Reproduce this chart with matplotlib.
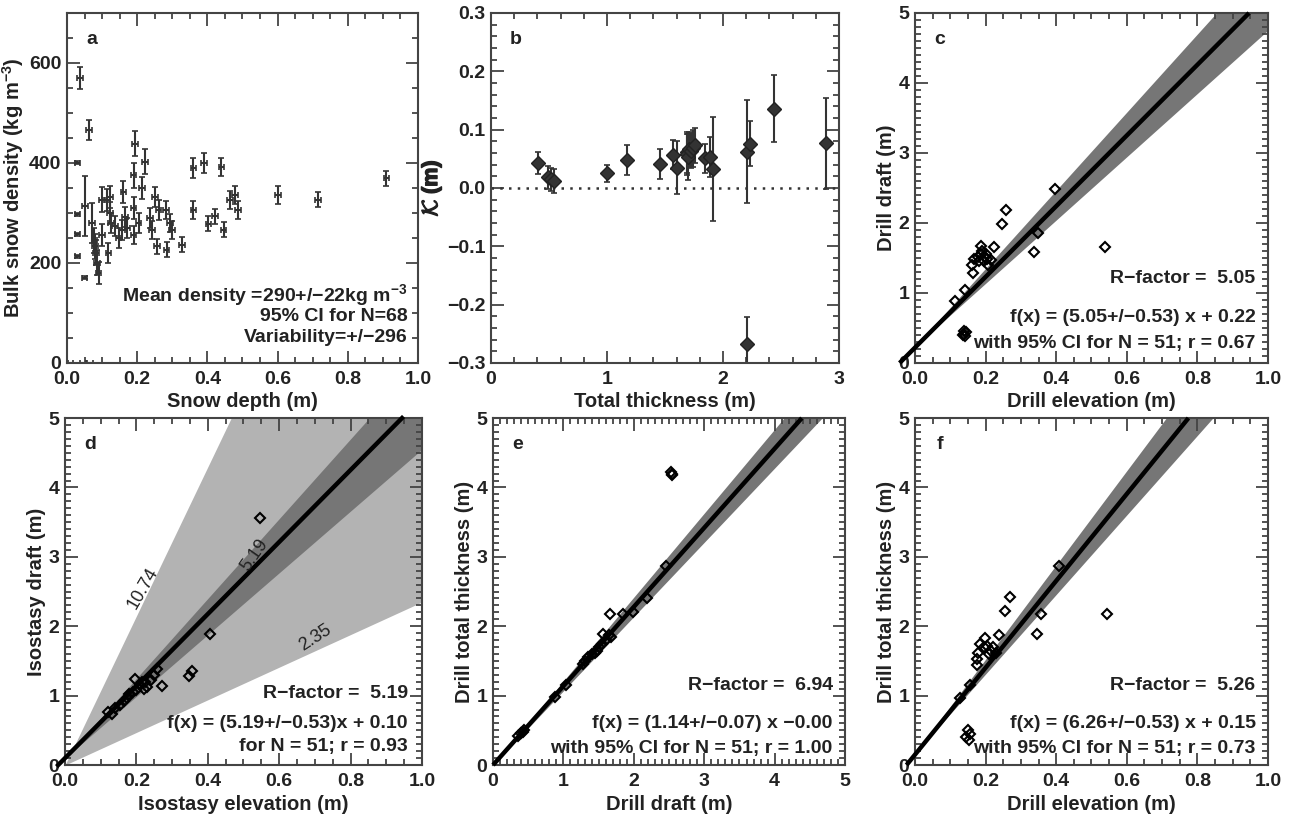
import numpy as np
import matplotlib
matplotlib.use('Agg')
import matplotlib.pyplot as plt
import matplotlib.patheffects as pe
from matplotlib import font_manager
from matplotlib.ft2font import FT2Font
from matplotlib.ticker import MultipleLocator

# ---- panel a: snow depth vs bulk density
snow_depth = [0.038, 0.062, 0.030, 0.030, 0.030, 0.030, 0.050, 0.010, 0.045, 0.065,
              0.052, 0.071, 0.080, 0.082, 0.086, 0.090, 0.078, 0.100, 0.100, 0.114,
              0.118, 0.123, 0.123, 0.125, 0.137, 0.147, 0.156, 0.161, 0.166, 0.172,
              0.190, 0.190, 0.190, 0.194, 0.204, 0.213, 0.223, 0.237, 0.242, 0.250,
              0.256, 0.261, 0.282, 0.284, 0.294, 0.300, 0.327, 0.360, 0.360, 0.390,
              0.403, 0.422, 0.440, 0.446, 0.465, 0.479, 0.488, 0.602, 0.716, 0.910]
snow_density = [570, 466, 400, 297, 257, 213, 170, 0, 0, 0,
                314, 279, 233, 220, 200, 180, 245, 326, 256, 326,
                220, 332, 300, 279, 273, 250, 266, 342, 292, 269,
                309, 256, 375, 438, 279, 349, 402, 289, 266, 332,
                233, 306, 306, 226, 279, 266, 236, 389, 306, 399,
                278, 293, 392, 266, 326, 336, 306, 336, 326, 369]
depth_err = [0.008] * 60
density_err = [22, 20, 3, 3, 3, 3, 3, 0, 0, 0,
               60, 40, 25, 25, 25, 22, 25, 25, 22, 22,
               20, 22, 22, 20, 20, 20, 20, 22, 20, 20,
               22, 18, 25, 25, 20, 22, 25, 20, 18, 20,
               15, 20, 18, 15, 18, 18, 15, 20, 18, 20,
               15, 15, 18, 15, 18, 18, 18, 18, 15, 15]

# ---- panel b: total thickness vs K
total_thick = [0.408, 0.494, 0.514, 0.543, 1.00, 1.17, 1.456, 1.57, 1.605, 1.686,
               1.69, 1.70, 1.71, 1.728, 1.74, 1.757, 1.843, 1.886, 1.91, 2.208,
               2.237, 2.208, 2.44, 2.886]
k_value = [0.043, 0.018, 0.015, 0.012, 0.025, 0.048, 0.041, 0.057, 0.035, 0.061,
           0.058, 0.053, 0.066, 0.064, 0.068, 0.073, 0.051, 0.053, 0.032, 0.062,
           0.076, -0.268, 0.136, 0.077]
k_err = [0.019, 0.020, 0.020, 0.020, 0.015, 0.025, 0.025, 0.025, 0.045, 0.035,
         0.035, 0.040, 0.030, 0.030, 0.032, 0.030, 0.025, 0.035, 0.089, 0.088,
         0.038, 0.047, 0.057, 0.078]

# ---- panel c: drill elevation vs drill draft
c_elev = [0.112, 0.143, 0.138, 0.140, 0.142, 0.137, 0.144, 0.165, 0.162, 0.167,
          0.178, 0.186, 0.188, 0.195, 0.198, 0.203, 0.208, 0.215, 0.224, 0.246,
          0.257, 0.338, 0.348, 0.398, 0.538, 0.180, 0.190, 0.200]
c_draft = [0.88, 1.04, 0.45, 0.42, 0.38, 0.40, 0.44, 1.29, 1.40, 1.49,
           1.51, 1.67, 1.56, 1.45, 1.52, 1.48, 1.40, 1.47, 1.66, 1.98,
           2.18, 1.58, 1.85, 2.49, 1.66, 1.45, 1.60, 1.55]

# ---- panel d: isostasy elevation vs isostasy draft
d_elev = [0.547, 0.407, 0.346, 0.355, 0.271, 0.257, 0.196, 0.210, 0.220, 0.230,
          0.215, 0.240, 0.173, 0.180, 0.190, 0.154, 0.140, 0.131, 0.120, 0.165,
          0.200, 0.225, 0.250]
d_draft = [3.56, 1.89, 1.29, 1.36, 1.14, 1.38, 1.24, 1.15, 1.10, 1.12,
           1.19, 1.22, 0.97, 1.02, 1.05, 0.87, 0.82, 0.73, 0.76, 0.92,
           1.08, 1.20, 1.30]
d_slopes_outer = [2.35, 10.74]
d_slopes_inner = [4.45, 5.75]

# ---- panel e: drill draft vs drill total thickness
e_draft = [2.535, 2.525, 2.545, 1.659, 1.840, 1.564, 2.460, 2.180, 1.990, 1.680,
           1.600, 1.500, 1.470, 1.400, 1.350, 1.280, 1.040, 0.880, 0.400, 0.360,
           0.440, 0.420, 1.550, 1.450, 1.300, 1.650]
e_thick = [4.20, 4.22, 4.18, 2.18, 2.18, 1.89, 2.87, 2.40, 2.20, 1.85,
           1.80, 1.70, 1.65, 1.60, 1.55, 1.46, 1.16, 0.98, 0.46, 0.42,
           0.50, 0.48, 1.74, 1.62, 1.50, 1.88]

# ---- panel f: drill elevation vs drill total thickness
f_elev = [0.408, 0.268, 0.256, 0.545, 0.357, 0.347, 0.239, 0.199, 0.205, 0.215,
          0.222, 0.195, 0.178, 0.176, 0.176, 0.155, 0.127, 0.150, 0.155, 0.145,
          0.152, 0.185, 0.210, 0.230]
f_thick = [2.87, 2.42, 2.22, 2.18, 2.18, 1.89, 1.87, 1.83, 1.72, 1.65,
           1.70, 1.70, 1.62, 1.53, 1.44, 1.15, 0.97, 0.50, 0.45, 0.40,
           0.36, 1.75, 1.60, 1.62]

# fits: slope, intercept, slope CI
fit_c = (5.05, 0.22, 0.53)
fit_d = (5.19, 0.10, 0.53)
fit_e = (1.14, 0.00, 0.07)
fit_f = (6.26, 0.15, 0.53)

plt.rcParams['font.family'] = ['Liberation Sans', 'DejaVu Sans']
plt.rcParams['font.weight'] = 'bold'
plt.rcParams['axes.labelweight'] = 'bold'
plt.rcParams['font.size'] = 14
plt.rcParams['mathtext.fontset'] = 'custom'
plt.rcParams['mathtext.rm'] = 'Liberation Sans:bold'
plt.rcParams['mathtext.bf'] = 'Liberation Sans:bold'
plt.rcParams['mathtext.default'] = 'rm'

INK = '#222222'
AX = '#444444'
DARK = '#767676'
LIGHT = '#b3b3b3'
LBL = 14.5


def has_glyph(family, ch):
    try:
        path = font_manager.findfont(family, fallback_to_default=False)
        return ord(ch) in FT2Font(path).get_charmap()
    except Exception:
        return False


# fraktur K for the panel b label, from whichever font carries it
frak_k = '\U0001D50E'
k_family = None
for fam in ['STIXGeneral', 'DejaVu Sans', 'DejaVu Serif', 'STIXNonUnicode']:
    if has_glyph(fam, frak_k):
        k_family = fam
        break


def style(ax, xmaj, xmin, ymaj, ymin):
    ax.xaxis.set_major_locator(MultipleLocator(xmaj))
    ax.xaxis.set_minor_locator(MultipleLocator(xmin))
    ax.yaxis.set_major_locator(MultipleLocator(ymaj))
    ax.yaxis.set_minor_locator(MultipleLocator(ymin))
    ax.tick_params(which='both', direction='in', top=True, right=True,
                   width=1.3, colors=AX, labelcolor=INK, labelsize=14)
    ax.tick_params(which='major', length=9)
    ax.tick_params(which='minor', length=4.5)
    ax.tick_params(axis='x', which='major', pad=6)
    ax.tick_params(axis='y', which='major', pad=4)
    for s in ax.spines.values():
        s.set_linewidth(1.5)
        s.set_color(AX)


def corner(ax, letter):
    ax.text(0.07, 0.925, letter, transform=ax.transAxes, fontsize=14,
            fontweight='bold', color=INK, ha='center', va='center')


def fit_panel(ax, fit, ymax=5.0):
    m, b, ci = fit
    xx = np.linspace(0, 6, 400)
    ax.fill_between(xx, (m - ci) * xx + b, (m + ci) * xx + b, color=DARK, lw=0, zorder=1)
    x0, x1 = -b / m, (ymax - b) / m
    ax.plot([x0, x1], [0, ymax], color='black', lw=3.2, zorder=3,
            solid_capstyle='butt', clip_on=False)


def notes(ax, lines, ys, x=0.965):
    for t, y in zip(lines, ys):
        ax.text(x, y, t, transform=ax.transAxes, ha='right', va='center',
                fontsize=14, fontweight='bold', color=INK, zorder=5)


fig = plt.figure(figsize=(12.9, 8.17), dpi=100)
top_b, top_h = 0.5557, 0.4284
bot_b, bot_h = 0.0636, 0.4247
ax_a = fig.add_axes([0.0519, top_b, 0.2721, top_h])
ax_b = fig.add_axes([0.3806, top_b, 0.2698, top_h])
ax_c = fig.add_axes([0.7093, top_b, 0.2736, top_h])
ax_d = fig.add_axes([0.0504, bot_b, 0.2767, bot_h])
ax_e = fig.add_axes([0.3822, bot_b, 0.2729, bot_h])
ax_f = fig.add_axes([0.7093, bot_b, 0.2736, bot_h])

# a
ax_a.errorbar(snow_depth, snow_density, xerr=depth_err, yerr=density_err, fmt='none',
              ecolor='#333333', elinewidth=1.5, capsize=2, capthick=1.2)
ax_a.set_xlim(0, 1)
ax_a.set_ylim(0, 700)
style(ax_a, 0.2, 0.05, 200, 50)
ax_a.set_xlabel('Snow depth (m)', fontsize=LBL, labelpad=3, color=INK)
ax_a.set_ylabel('Bulk snow density (kg m$^{-3}$)', fontsize=LBL, labelpad=2, color=INK)
corner(ax_a, 'a')
notes(ax_a, ['Mean density =290+/\u221222kg m$^{-3}$', '95% CI for N=68',
             'Variability=+/\u2212296'], [0.195, 0.132, 0.074], x=0.97)

# b
ax_b.axhline(0, color='#333333', lw=1.8, ls=(0, (1, 2.5)))
ax_b.errorbar(total_thick, k_value, yerr=k_err, fmt='D', ms=7, color='#333333',
              mec='#222222', ecolor='#333333', elinewidth=1.5, capsize=2, capthick=1.2)
ax_b.set_xlim(0, 3)
ax_b.set_ylim(-0.3, 0.3)
style(ax_b, 1, 0.2, 0.1, 0.02)
ax_b.set_xlabel('Total thickness (m)', fontsize=LBL, labelpad=3, color=INK)
if k_family is not None:
    ax_b.set_ylabel(frak_k + ' (m)', fontsize=LBL, labelpad=2, color=INK,
                    family=['Liberation Sans', k_family])
else:
    ax_b.set_ylabel(r'$\mathcal{K}$ (m)', fontsize=LBL + 1, labelpad=2, color=INK,
                    math_fontfamily='cm',
                    path_effects=[pe.withStroke(linewidth=1.0, foreground=INK)])
corner(ax_b, 'b')

# c
fit_panel(ax_c, fit_c)
ax_c.plot(c_elev, c_draft, 'D', ms=5, mfc='none', mec='black', mew=1.5, zorder=4)
ax_c.set_xlim(0, 1)
ax_c.set_ylim(0, 5)
style(ax_c, 0.2, 0.05, 1, 0.1)
ax_c.set_xlabel('Drill elevation (m)', fontsize=LBL, labelpad=3, color=INK)
ax_c.set_ylabel('Drill draft (m)', fontsize=LBL, labelpad=2, color=INK)
corner(ax_c, 'c')
notes(ax_c, ['R\u2212factor =  %.2f' % fit_c[0],
             'f(x) = (5.05+/\u22120.53) x + 0.22',
             'with 95% CI for N = 51; r = 0.67'], [0.24, 0.129, 0.057])

# d
xx = np.linspace(0, 1, 200)
ax_d.fill_between(xx, d_slopes_outer[0] * xx, d_slopes_outer[1] * xx, color=LIGHT, lw=0, zorder=0)
ax_d.fill_between(xx, d_slopes_inner[0] * xx + fit_d[1], d_slopes_inner[1] * xx + fit_d[1],
                  color=DARK, lw=0, zorder=1)
m, b, _ = fit_d
ax_d.plot([-b / m, (5 - b) / m], [0, 5], color='black', lw=3.2, zorder=3, clip_on=False)
ax_d.plot(d_elev, d_draft, 'D', ms=5, mfc='none', mec='black', mew=1.5, zorder=4)
ax_d.set_xlim(0, 1)
ax_d.set_ylim(0, 5)
style(ax_d, 0.2, 0.05, 1, 0.1)
ax_d.set_xlabel('Isostasy elevation (m)', fontsize=LBL, labelpad=3, color=INK)
ax_d.set_ylabel('Isostasy draft (m)', fontsize=LBL, labelpad=2, color=INK)
corner(ax_d, 'd')
ax_d.text(0.218, 2.55, '%.2f' % d_slopes_outer[1], rotation=60, ha='center', va='center',
          fontsize=13, fontweight='normal', color=INK, zorder=5)
ax_d.text(0.532, 3.03, '%.2f' % fit_d[0], rotation=55, ha='center', va='center',
          fontsize=13, fontweight='normal', color=INK, zorder=5)
ax_d.text(0.70, 1.84, '%.2f' % d_slopes_outer[0], rotation=33, ha='center', va='center',
          fontsize=13, fontweight='normal', color=INK, zorder=5)
notes(ax_d, ['R\u2212factor =  %.2f' % fit_d[0],
             'f(x) = (5.19+/\u22120.53)x + 0.10',
             'for N = 51; r = 0.93'], [0.207, 0.121, 0.052], x=0.96)

# e
fit_panel(ax_e, fit_e)
ax_e.plot(e_draft, e_thick, 'D', ms=5, mfc='none', mec='black', mew=1.5, zorder=4)
ax_e.set_xlim(0, 5)
ax_e.set_ylim(0, 5)
style(ax_e, 1, 0.1, 1, 0.1)
ax_e.set_xlabel('Drill draft (m)', fontsize=LBL, labelpad=3, color=INK)
ax_e.set_ylabel('Drill total thickness (m)', fontsize=LBL, labelpad=2, color=INK)
corner(ax_e, 'e')
notes(ax_e, ['R\u2212factor =  6.94',
             'f(x) = (1.14+/\u22120.07) x \u22120.00',
             'with 95% CI for N = 51; r = 1.00'], [0.23, 0.121, 0.049])

# f
fit_panel(ax_f, fit_f)
ax_f.plot(f_elev, f_thick, 'D', ms=5, mfc='none', mec='black', mew=1.5, zorder=4)
ax_f.set_xlim(0, 1)
ax_f.set_ylim(0, 5)
style(ax_f, 0.2, 0.05, 1, 0.1)
ax_f.set_xlabel('Drill elevation (m)', fontsize=LBL, labelpad=3, color=INK)
ax_f.set_ylabel('Drill total thickness (m)', fontsize=LBL, labelpad=2, color=INK)
corner(ax_f, 'f')
notes(ax_f, ['R\u2212factor =  5.26',
             'f(x) = (6.26+/\u22120.53) x + 0.15',
             'with 95% CI for N = 51; r = 0.73'], [0.23, 0.121, 0.049])

fig.savefig('out.png', dpi=100)
